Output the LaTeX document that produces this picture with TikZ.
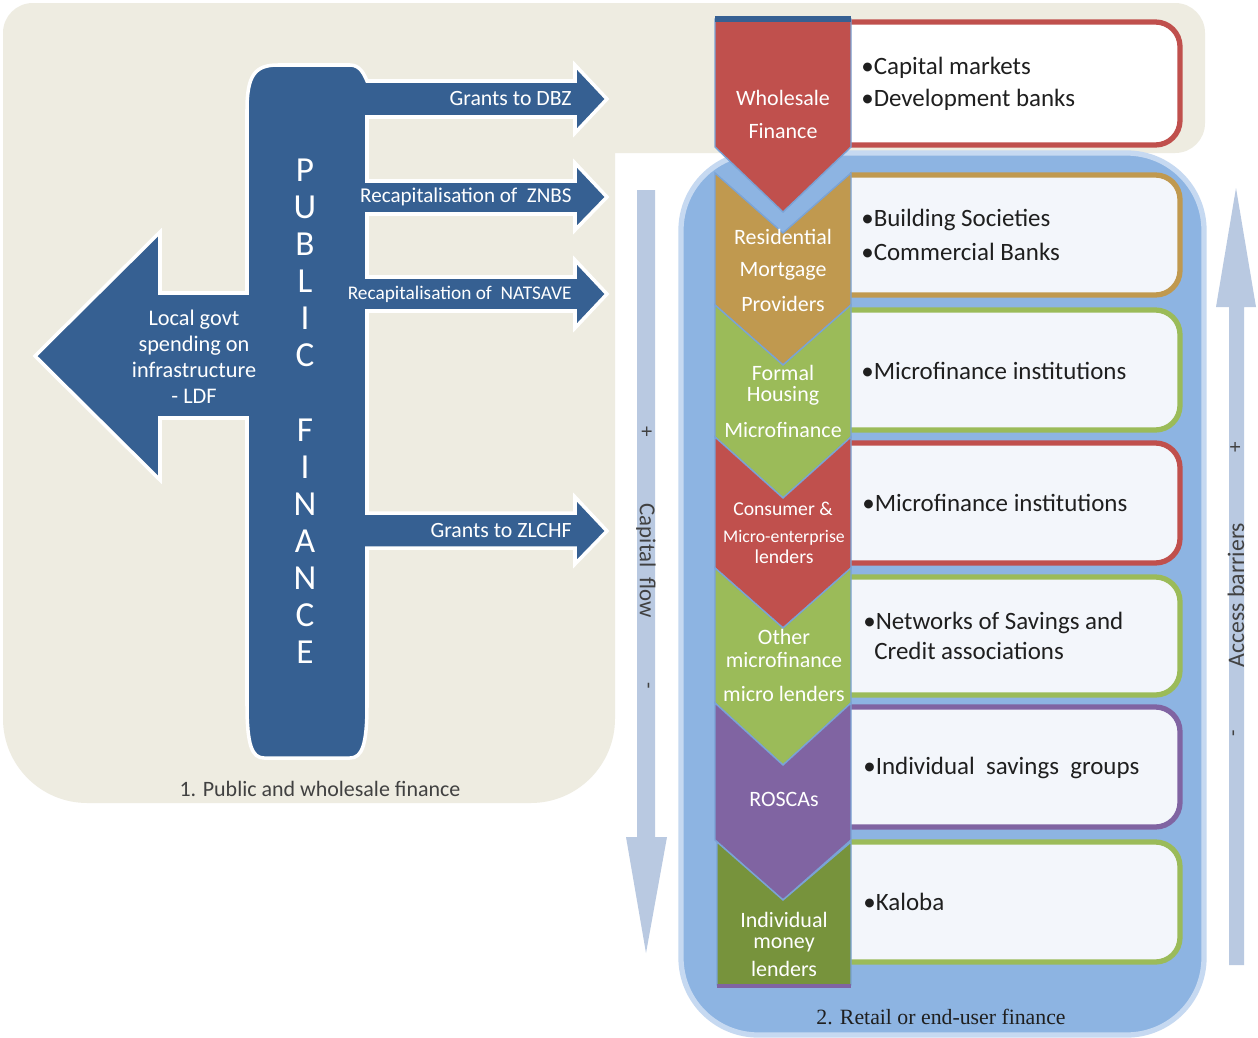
\documentclass[tikz,border=0pt]{standalone}
\usepackage{fontspec}
\setmainfont{Carlito}
\newfontfamily\retailfont{Liberation Serif}
\definecolor{beige}{HTML}{EEECE1}
\definecolor{pfblue}{HTML}{366092}
\definecolor{panelblue}{HTML}{8DB4E2}
\definecolor{paneledge}{HTML}{C6D9F1}
\definecolor{flowgray}{HTML}{B9C9E1}
\definecolor{cred}{HTML}{C0504D}
\definecolor{ctan}{HTML}{C0994F}
\definecolor{cgreen}{HTML}{9BBB59}
\definecolor{cpurple}{HTML}{8064A2}
\definecolor{cdkgreen}{HTML}{77933C}
\definecolor{boxfill}{HTML}{F3F6FB}
\definecolor{txtdark}{HTML}{1F1F1F}
\definecolor{chevedge}{HTML}{7AA3D6}
\newcommand\fsz[2]{\fontsize{#1}{#2}\selectfont}
\newcommand\boxshape[4]{%
  \begin{scope}
    \clip (850,0) rectangle (1258,1038);
    \filldraw[draw=#1, fill=#2, line width=3, rounded corners=14pt] (800,#3) rectangle (1180,#4);
  \end{scope}}
\newcommand\chevshape[5]{%
  \filldraw[fill=#1, draw=chevedge, line width=0.8] (715,#2) -- (783,#3) -- (851,#2) -- (851,#4) -- (783,#5) -- (715,#4) -- cycle;}
\tikzset{
  boxtxt/.style={anchor=west, text=txtdark, font=\fsz{14.2}{17}, inner sep=0},
  chevtxt/.style={text=white, font=\fsz{12.5}{15}, inner sep=0},
  arrowtxt/.style={anchor=east, text=white, inner sep=0},
  letter/.style={text=white, font=\fsz{20}{24}, inner sep=0},
  sidetxt/.style={text=txtdark!85, inner sep=0},
}
\begin{document}
\begin{tikzpicture}[x=0.02cm, y=-0.02cm]
\useasboundingbox (0,0) rectangle (1258,1038);
\fill[white] (0,0) rectangle (1258,1038);
% beige panel
\fill[beige, rounded corners=17pt] (3,3) rectangle (1205,153);
\fill[beige, rounded corners=48pt] (3,3) rectangle (615,803);
\fill[beige] (3,40) rectangle (615,400);
% blue retail panel
\filldraw[fill=panelblue, draw=paneledge, line width=3, rounded corners=44pt] (681,153) rectangle (1204,1035);
% capital flow arrow (down)
\fill[flowgray] (637,190) -- (655,190) -- (655,837) -- (667,837) -- (646,953) -- (626,837) -- (637,837) -- cycle;
% access barriers arrow (up)
\fill[flowgray] (1229,965) -- (1244,965) -- (1244,307) -- (1256,307) -- (1236,188) -- (1216,307) -- (1229,307) -- cycle;
% public finance shape
\filldraw[fill=pfblue, draw=white, line width=2]
  (247,110) .. controls (247,75) and (255,65) .. (278,65) -- (350,65)
  .. controls (360,65) and (364,74) .. (367,81)
  -- (575,81) -- (575,65) -- (607,99) -- (575,133) -- (575,117) -- (367,117)
  -- (367,181) -- (575,181) -- (575,163) -- (607,197) -- (575,230) -- (575,214) -- (367,214)
  -- (367,277) -- (575,277) -- (575,260) -- (607,294) -- (575,328) -- (575,311) -- (367,311)
  -- (367,513) -- (575,513) -- (575,497) -- (607,531) -- (575,564) -- (575,548) -- (367,548)
  -- (367,705) .. controls (367,745) and (362,758) .. (350,758) -- (264,758)
  .. controls (252,758) and (247,745) .. (247,705)
  -- (247,418) -- (160,418) -- (160,480) -- (35,356) -- (160,232) -- (160,293) -- (247,293) -- cycle;
% arrow labels
\node[arrowtxt, font=\fsz{12.4}{15}] (dbz) at (572,99) {Grants to DBZ};
\node[arrowtxt, font=\fsz{12}{15}] (znbs) at (572,197) {Recapitalisation of\ \ ZNBS};
\node[arrowtxt, font=\fsz{11}{14}] (natsave) at (572,294) {Recapitalisation of\ \ NATSAVE};
\node[arrowtxt, font=\fsz{12.4}{15}] (zlchf) at (572,531) {Grants to ZLCHF};
\node[text=white, align=center, font=\fsz{12.7}{14.8}, inner sep=0] (ldf) at (194,357) {Local govt\\spending on\\infrastructure\\- LDF};
% PUBLIC FINANCE letters
\node[letter] (p1) at (305,170) {P};
\node[letter] (p2) at (305,207) {U};
\node[letter] (p3) at (305,244) {B};
\node[letter] (p4) at (305,281) {L};
\node[letter] (p5) at (305,318) {I};
\node[letter] (p6) at (305,355) {C};
\node[letter] (f1) at (305,430) {F};
\node[letter] (f2) at (305,467) {I};
\node[letter] (f3) at (305,504) {N};
\node[letter] (f4) at (305,541) {A};
\node[letter] (f5) at (305,578) {N};
\node[letter] (f6) at (305,615) {C};
\node[letter] (f7) at (305,652) {E};
\node[text=txtdark!85, font=\fsz{12.5}{15}, inner sep=0] (lbl1) at (320,789) {1. Public and wholesale finance};
% boxes
\boxshape{cred}{white}{22}{145}
\boxshape{ctan}{boxfill}{175}{295}
\boxshape{cgreen}{boxfill}{310}{430}
\boxshape{cred}{boxfill}{443}{563}
\boxshape{cgreen}{boxfill}{577}{695}
\boxshape{cpurple}{boxfill}{707}{827}
\boxshape{cgreen}{boxfill}{842}{962}
% chevrons
\filldraw[fill=cred, draw=chevedge, line width=0.8] (715,19) -- (851,19) -- (851,147) -- (783,212) -- (715,147) -- cycle;
\draw[pfblue, line width=3] (715,19) -- (851,19);
\chevshape{ctan}{173}{233}{305}{365}
\chevshape{cgreen}{305}{365}{437}{498}
\chevshape{cred}{437}{498}{568}{628}
\chevshape{cgreen}{568}{628}{703}{765}
\chevshape{cpurple}{703}{765}{840}{900}
\filldraw[fill=cdkgreen, draw=chevedge, line width=0.8] (717,842) -- (783,900) -- (851,842) -- (851,985) -- (717,985) -- cycle;
\draw[cpurple, line width=2.5] (717,986) -- (851,986);
% chevron texts
\node[chevtxt] (c1a) at (783,98) {Wholesale};
\node[chevtxt] (c1b) at (783,131) {Finance};
\node[chevtxt] (c2a) at (783,237) {Residential};
\node[chevtxt] (c2b) at (783,271) {Mortgage};
\node[chevtxt] (c2c) at (783,304) {Providers};
\node[chevtxt] (c3a) at (783,373) {Formal};
\node[chevtxt] (c3b) at (783,396) {Housing};
\node[chevtxt] (c3c) at (783,430) {Microfinance};
\node[chevtxt, font=\fsz{11.2}{13}] (c4a) at (783,509) {Consumer \&};
\node[chevtxt, font=\fsz{10.1}{12}] (c4b) at (784,538) {Micro-enterprise};
\node[chevtxt, font=\fsz{11.2}{13}] (c4c) at (784,557) {lenders};
\node[chevtxt] (c5a) at (784,637) {Other};
\node[chevtxt] (c5b) at (784,660) {microfinance};
\node[chevtxt] (c5c) at (784,694) {micro lenders};
\node[chevtxt] (c6a) at (784,799) {ROSCAs};
\node[chevtxt] (c7a) at (784,920) {Individual};
\node[chevtxt] (c7b) at (784,945) {money};
\node[chevtxt] (c7c) at (784,969) {lenders};
% box texts
\node[boxtxt] (b1a) at (861,68) {\textbullet Capital markets};
\node[boxtxt] (b1b) at (861,100) {\textbullet Development banks};
\node[boxtxt] (b2a) at (861,220) {\textbullet Building Societies};
\node[boxtxt] (b2b) at (861,252) {\textbullet Commercial Banks};
\node[boxtxt] (b3a) at (861,371) {\textbullet Microfinance institutions};
\node[boxtxt] (b4a) at (862,503) {\textbullet Microfinance institutions};
\node[boxtxt] (b5a) at (863,623) {\textbullet Networks of Savings and};
\node[boxtxt] (b5b) at (874,651) {Credit associations};
\node[boxtxt] (b6a) at (863,768) {\textbullet Individual\ \ savings\ \ groups};
\node[boxtxt] (b7a) at (863,902) {\textbullet Kaloba};
% side labels
\node[sidetxt, rotate=-90, font=\fsz{13}{15}] (cf) at (646,561) {Capital\ \ flow};
\node[sidetxt, rotate=-90, font=\fsz{12}{14}] (cfp) at (646,432) {+};
\node[sidetxt, rotate=-90, font=\fsz{12}{14}] (cfm) at (646,686) {-};
\node[sidetxt, rotate=90, font=\fsz{13.5}{15}] (ab) at (1236,595) {Access barriers};
\node[sidetxt, rotate=90, font=\fsz{12}{14}] (abp) at (1236,447) {+};
\node[sidetxt, rotate=90, font=\fsz{12}{14}] (abm) at (1236,733) {-};
\node[text=txtdark, font=\retailfont\fsz{12.4}{15}, inner sep=0] (lbl2) at (941,1017) {2. Retail\ or end-user finance};
\end{tikzpicture}
\end{document}
